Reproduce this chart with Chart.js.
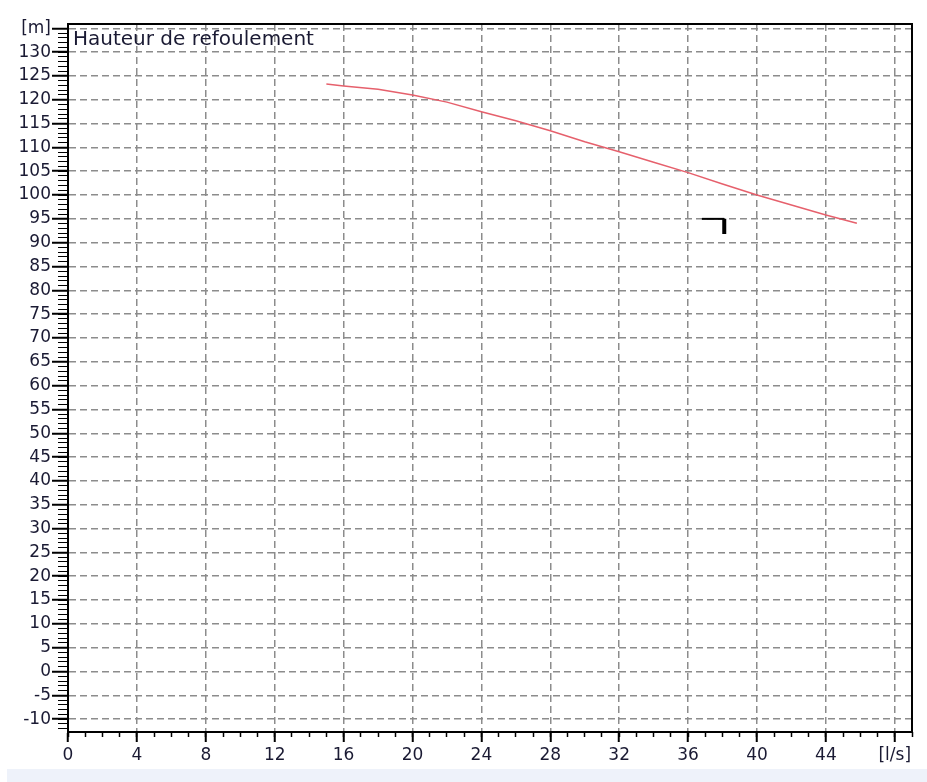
<!DOCTYPE html>
<html>
<head>
<meta charset="utf-8">
<script src="https://cdn.jsdelivr.net/npm/chart.js@4"></script>
<style>
  body { margin: 0; background: #fff; }
  #wrap { position: relative; width: 927px; height: 782px; }
  #band { position: absolute; left: 7px; top: 769px; width: 920px; height: 13px; background: #eef2fa; }
</style>
</head>
<body>
<div id="wrap">
  <canvas id="pump" width="927" height="768"></canvas>
  <div id="band"></div>
</div>
<script>
// pump curve, flow [l/s] against head [m]
var flow = [15, 16, 18, 20, 22, 24, 26, 28, 30, 32, 34, 36, 38, 40, 42, 44, 45.8];
var head = [123.3, 122.9, 122.2, 121.0, 119.5, 117.5, 115.6, 113.5, 111.2, 109.1, 106.9, 104.7, 102.3, 100.0, 97.9, 95.8, 94.1];

// duty point marker
var markFlow = [36.8, 38.1, 38.1];
var markHead = [95, 95, 91.8];

var xRange = [0, 49];
var yRange = [-12.7, 135.9];
var xUnit = '[l/s]';
var yUnit = '[m]';
var title = 'Hauteur de refoulement';

var txt = '#1a1a33';
var font = {family: 'DejaVu Sans', size: 17};

function points(xs, ys) {
    return xs.map(function (x, i) { return {x: x, y: ys[i]}; });
}

var frame = {
    id: 'frame',
    afterDraw: function (chart) {
        var a = chart.chartArea, ctx = chart.ctx;
        ctx.save();
        ctx.strokeStyle = '#000';
        ctx.lineWidth = 2;
        ctx.strokeRect(a.left, a.top, a.right - a.left, a.bottom - a.top);
        ctx.fillStyle = txt;
        ctx.font = '20px "DejaVu Sans"';
        ctx.textBaseline = 'alphabetic';
        ctx.fillText(title, a.left + 5, a.top + 21);
        ctx.restore();
    }
};

new Chart(document.getElementById('pump'), {
    type: 'scatter',
    data: {
        datasets: [
            {
                data: points(flow, head),
                showLine: true,
                borderColor: '#e6606c',
                borderWidth: 1.5,
                pointRadius: 0
            },
            {
                data: points(markFlow, markHead),
                showLine: true,
                borderColor: '#000',
                borderWidth: 2,
                pointRadius: 0,
                borderCapStyle: 'butt',
                segment: {
                    borderWidth: function (c) { return c.p0DataIndex === 1 ? 4 : 2; }
                }
            }
        ]
    },
    options: {
        responsive: false,
        animation: false,
        layout: {padding: {top: 24, right: 15, left: 0, bottom: 0}},
        plugins: {legend: {display: false}, tooltip: {enabled: false}},
        scales: {
            x: {
                type: 'linear', position: 'bottom', weight: 1,
                min: xRange[0], max: xRange[1],
                ticks: {
                    stepSize: 4, includeBounds: false, autoSkip: false, maxRotation: 0,
                    padding: 3, color: txt, font: font,
                    callback: function (v) { return v === 48 ? xUnit : v; }
                },
                grid: {color: '#8c8c8c', lineWidth: 1.5, tickColor: '#000', tickWidth: 2, tickLength: 10, tickBorderDash: []},
                border: {display: true, color: '#000', width: 2, dash: [7, 4]},
                afterFit: function (s) { s.height = 36; }
            },
            x2: {
                type: 'linear', position: 'bottom', weight: 0,
                min: xRange[0], max: xRange[1],
                ticks: {stepSize: 1, includeBounds: false, display: false},
                grid: {drawOnChartArea: false, tickColor: '#000', tickWidth: 1.5, tickLength: 5},
                border: {display: false},
                afterFit: function (s) { s.height = 0; }
            },
            y: {
                type: 'linear', position: 'left', weight: 1,
                min: yRange[0], max: yRange[1],
                ticks: {
                    stepSize: 5, includeBounds: false, autoSkip: false,
                    padding: 1, color: txt, font: font,
                    callback: function (v) { return v === 135 ? yUnit : v; }
                },
                grid: {color: '#8c8c8c', lineWidth: 1.5, tickColor: '#000', tickWidth: 2, tickLength: 16, tickBorderDash: []},
                border: {display: true, color: '#000', width: 2, dash: [7, 4]},
                afterFit: function (s) { s.width = 68; }
            },
            y2: {
                type: 'linear', position: 'left', weight: 0,
                min: yRange[0], max: yRange[1],
                ticks: {stepSize: 1, includeBounds: false, display: false},
                grid: {drawOnChartArea: false, tickColor: '#000', tickWidth: 1, tickLength: 10},
                border: {display: false},
                afterFit: function (s) { s.width = 0; }
            }
        }
    },
    plugins: [frame]
});
</script>
</body>
</html>
